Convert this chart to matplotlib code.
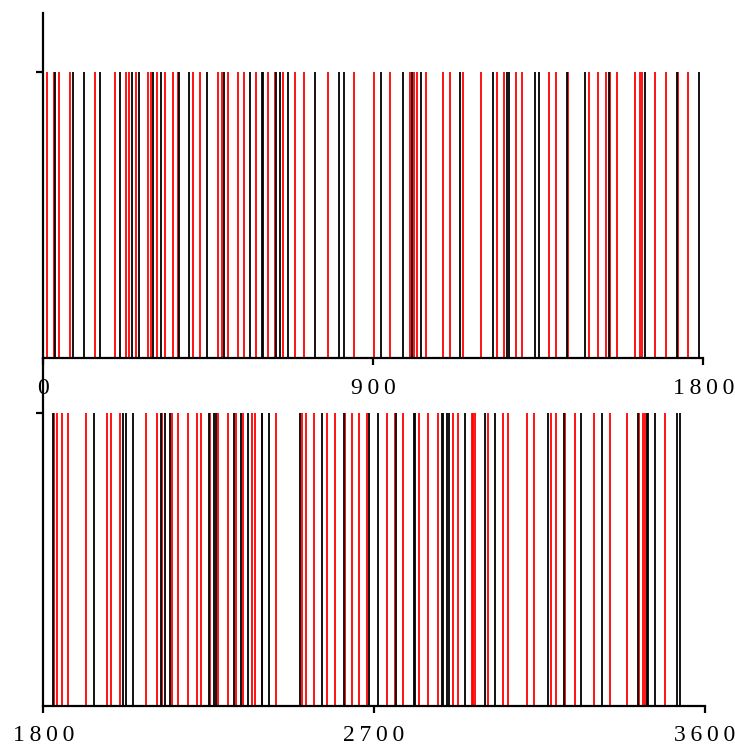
import matplotlib.pyplot as plt

# spike times (ms)
black_1 = [32, 82, 111, 154, 209, 241, 261, 298, 320, 371, 398, 445, 492, 564,
           596, 600, 635, 645, 666, 741, 805, 821, 920, 982, 1005, 1029, 1137,
           1226, 1264, 1269, 1341, 1352, 1428, 1476, 1543, 1640, 1728, 1789]
red_1 = [9, 29, 43, 72, 141, 195, 224, 233, 252, 286, 293, 311, 332, 353, 368,
         409, 427, 477, 486, 504, 532, 548, 579, 612, 632, 654, 685, 712, 776,
         848, 902, 944, 1000, 1012, 1019, 1044, 1091, 1108, 1144, 1193, 1237,
         1257, 1290, 1305, 1380, 1398, 1432, 1489, 1513, 1534, 1546, 1564,
         1614, 1628, 1633, 1669, 1698, 1731, 1758]

black_2 = [1826, 1937, 2017, 2026, 2044, 2119, 2130, 2144, 2250, 2265, 2271,
           2319, 2339, 2357, 2394, 2414, 2498, 2557, 2619, 2686, 2711, 2759,
           2808, 2811, 2884, 2887, 2899, 2905, 2947, 3002, 3029, 3172, 3218,
           3263, 3321, 3418, 3442, 3446, 3463, 3524, 3533]
red_2 = [1830, 1837, 1852, 1867, 1917, 1973, 1983, 2008, 2080, 2108, 2124,
         2149, 2167, 2194, 2217, 2228, 2253, 2274, 2303, 2323, 2344, 2368,
         2377, 2396, 2434, 2504, 2516, 2537, 2571, 2593, 2622, 2639, 2659,
         2680, 2736, 2757, 2778, 2823, 2847, 2875, 2914, 2929, 2965, 2969,
         2974, 3011, 3050, 3065, 3115, 3136, 3181, 3194, 3220, 3247, 3297,
         3342, 3388, 3421, 3433, 3437, 3492]

x_ticks_1 = [0, 900, 1800]
x_ticks_2 = [1800, 2700, 3600]

fig = plt.figure(figsize=(7.35, 7.46), dpi=100)
ax1 = fig.add_axes([0.059, 0.520, 0.898, 0.463])
# lower panel's left spine runs up to the upper panel's x axis
ax2 = fig.add_axes([0.059, 0.0536, 0.900, 0.4665])


def spaced(v):
    return '\u2009'.join(str(v))


def setup(ax, blk, red, ticks, top):
    ax.vlines(red, 0, 1, colors='#ff0000', linewidth=1.3)
    ax.vlines(blk, 0, 1, colors='black', linewidth=1.3)
    ax.set_xlim(ticks[0], ticks[-1])
    ax.set_ylim(0, top)
    ax.spines['top'].set_visible(False)
    ax.spines['right'].set_visible(False)
    ax.spines['left'].set_linewidth(1.6)
    ax.spines['bottom'].set_linewidth(1.6)
    ax.set_yticks([1])
    ax.set_yticklabels([])
    ax.set_xticks(ticks)
    ax.set_xticklabels([spaced(t) for t in ticks], family='Liberation Serif', fontsize=17)
    ax.tick_params(axis='both', direction='out', length=5, width=1.6, pad=9)
    ax.patch.set_visible(False)


setup(ax1, black_1, red_1, x_ticks_1, 1.206)
setup(ax2, black_2, red_2, x_ticks_2, 1.188)
ax1.set_zorder(2)

fig.savefig('out.png', dpi=100)
